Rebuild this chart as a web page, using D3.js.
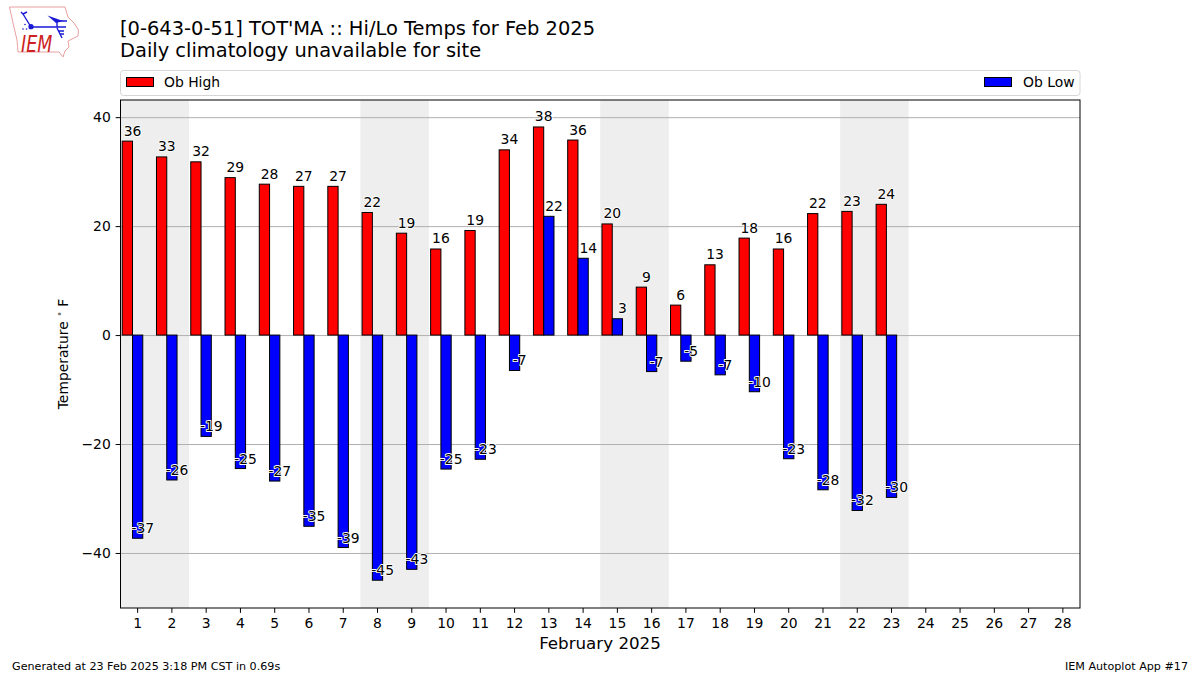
<!DOCTYPE html>
<html><head><meta charset="utf-8">
<script src="https://cdn.jsdelivr.net/npm/d3@7"></script>
<style>html,body{margin:0;padding:0;background:#fff}svg{display:block}text{font-family:"DejaVu Sans",sans-serif}</style>
</head><body><svg id="c" width="1200" height="675"></svg>
<script>
const days = d3.range(1, 29);
const highs = [35.6,32.7,31.8,28.9,27.7,27.3,27.3,22.5,18.7,15.8,19.2,34,38.2,35.8,20.4,8.8,5.5,12.9,17.8,15.8,22.3,22.7,24];
const lows = [-37.3,-26.6,-18.6,-24.5,-26.8,-35.1,-39,-45,-43,-24.6,-22.8,-6.5,21.8,14.1,3,-6.7,-4.8,-7.3,-10.4,-22.7,-28.4,-32.2,-29.8];
const highLabels = [36,33,32,29,28,27,27,22,19,16,19,34,38,36,20,9,6,13,18,16,22,23,24];
const lowLabels = [-37,-26,-19,-25,-27,-35,-39,-45,-43,-25,-23,-7,22,14,3,-7,-5,-7,-10,-23,-28,-32,-30];
const shadedStarts = [1,8,15,22];
const yTicks = [-40,-20,0,20,40];
const titleLines = ["[0-643-0-51] TOT'MA :: Hi/Lo Temps for Feb 2025","Daily climatology unavailable for site"];

const svg = d3.select("#c");
const L=120.5,R=1080,T=100,B=608;
const x = d3.scaleLinear().domain([0.5,28.5]).range([L,R]);
const y = d3.scaleLinear().domain([-50.1,43.15]).range([B,T]);
const bw = x(1.3)-x(1);

// shaded two-day bands
svg.append("g").selectAll("rect").data(shadedStarts).join("rect")
  .attr("x",d=>x(d-0.5)).attr("width",x(2.5)-x(0.5)).attr("y",T).attr("height",B-T)
  .attr("fill","#eeeeee");

// gridlines
svg.append("g").selectAll("line").data(yTicks).join("line")
  .attr("x1",L).attr("x2",R).attr("y1",d=>y(d)+.5).attr("y2",d=>y(d)+.5)
  .attr("stroke","#b0b0b0").attr("stroke-width",1);

// bars
const bars = (vals,off,fill)=>svg.append("g").selectAll("rect").data(vals).join("rect")
  .attr("x",(d,i)=>x(days[i]+off)-bw/2).attr("width",bw)
  .attr("y",d=>y(Math.max(d,0))).attr("height",d=>Math.abs(y(d)-y(0)))
  .attr("fill",fill).attr("stroke","#000").attr("stroke-width",1);
bars(highs,-0.3,"#ff0000");
bars(lows,0,"#0000ff");

// high labels
svg.append("g").selectAll("text").data(highLabels).join("text")
  .attr("x",(d,i)=>x(days[i]-0.15)).attr("y",(d,i)=>y(highs[i])-5.5)
  .attr("text-anchor","middle")
  .attr("font-size",13.9).attr("fill","#000")
  .attr("stroke","#fff").attr("stroke-width",1.8).attr("paint-order","stroke").attr("stroke-linejoin","round")
  .text(d=>d);
// low labels
svg.append("g").selectAll("text").data(lowLabels).join("text")
  .attr("x",(d,i)=>x(days[i]+0.15)).attr("y",(d,i)=>lows[i]>=0? y(lows[i])-5.5 : y(lows[i])-5)
  .attr("text-anchor","middle")
  .attr("font-size",13.9).attr("fill","#000")
  .attr("stroke","#fff").attr("stroke-width",1.8).attr("paint-order","stroke").attr("stroke-linejoin","round")
  .text(d=>d);

// axes
const xAxis = d3.axisBottom(x).tickValues(days).tickFormat(d3.format("d")).tickSize(4.86).tickPadding(4.86);
const yAxis = d3.axisLeft(y).tickValues(yTicks).tickFormat(d=>String(d).replace("-","\u2212")).tickSize(4.86).tickPadding(4.86);
const gx = svg.append("g").attr("transform",`translate(-0.5,${B})`).call(xAxis);
const gy = svg.append("g").attr("transform",`translate(${L},0)`).call(yAxis);
[gx,gy].forEach(g=>{g.select(".domain").remove();
  g.selectAll("text").attr("font-size",13.9).attr("font-family","DejaVu Sans").attr("fill","#000");
  g.selectAll("line").attr("stroke","#000").attr("stroke-width",1);});
// frame
svg.append("rect").attr("x",L).attr("y",T).attr("width",R-L).attr("height",B-T)
  .attr("fill","none").attr("stroke","#000").attr("stroke-width",1);

// axis titles
svg.append("text").attr("x",600).attr("y",649).attr("text-anchor","middle").attr("font-size",16.7).text("February 2025");
const yl = svg.append("text").attr("transform","translate(68,354) rotate(-90)").attr("text-anchor","middle").attr("font-size",13.9);
yl.append("tspan").text("Temperature ");
yl.append("tspan").attr("dy",-5).attr("font-size",9.7).attr("fill","#777").text("\u2022");
yl.append("tspan").attr("dy",5).text(" F");

// title
svg.selectAll("text.t").data(titleLines).join("text").attr("class","t")
  .attr("x",120).attr("y",(d,i)=>35+i*22).attr("font-size",19.45).attr("fill","#000").text(d=>d);

// legend
svg.append("rect").attr("x",120.5).attr("y",70.5).attr("width",959.5).attr("height",25).attr("rx",3)
  .attr("fill","#fff").attr("stroke","#d6d6d6");
svg.append("rect").attr("x",126.5).attr("y",77.5).attr("width",27).attr("height",9).attr("fill","#ff0000").attr("stroke","#000");
svg.append("text").attr("x",164).attr("y",86.5).attr("font-size",13.9).text("Ob High");
svg.append("rect").attr("x",984.5).attr("y",77.5).attr("width",27).attr("height",9).attr("fill","#0000ff").attr("stroke","#000");
svg.append("text").attr("x",1023).attr("y",86.5).attr("font-size",13.9).text("Ob Low");

// footer
svg.append("text").attr("x",12).attr("y",670).attr("font-size",11.15).text("Generated at 23 Feb 2025 3:18 PM CST in 0.69s");
svg.append("text").attr("x",1188).attr("y",670).attr("text-anchor","end").attr("font-size",11.15).text("IEM Autoplot App #17");

// IEM logo
const logo = svg.append("g");
logo.append("path").attr("d","M9.5,7 L65,7 L68,17 L74,23 L78.5,30 L78,36 L68,41 L69,47 L65,51 L63,57 L59,52 L18,52 L17,40 L13,23 Z")
  .attr("fill","#fff").attr("stroke","#eba0a0").attr("stroke-width",1);
logo.append("path").attr("d","M31,27 L66,27 M31,27 L23,14 M23,14 L21,12 M23,14 L27,12 M57,21 L67,21 M57,21 L57,27 M57,28 L62,38 M58,31 L64,31 M60,34 L64,34")
  .attr("fill","none").attr("stroke","#1a1ad6").attr("stroke-width",1.4);
logo.append("path").attr("d","M47.5,15.5 L63,21 L56,23 Z").attr("fill","#1a1ad6");
logo.append("circle").attr("cx",31).attr("cy",26.7).attr("r",2.6).attr("fill","#1a1ad6");
logo.append("circle").attr("cx",25).attr("cy",24.5).attr("r",0.8).attr("fill","#1a1ad6");
logo.append("circle").attr("cx",23).attr("cy",29).attr("r",0.8).attr("fill","#1a1ad6");
logo.append("circle").attr("cx",26.5).attr("cy",29).attr("r",0.8).attr("fill","#1a1ad6");
logo.append("text").attr("transform","translate(21,52) scale(0.76,1)").attr("font-family","Liberation Serif").attr("font-style","italic").attr("font-size",23).attr("fill","#cc2222").text("IEM");
</script></body></html>
